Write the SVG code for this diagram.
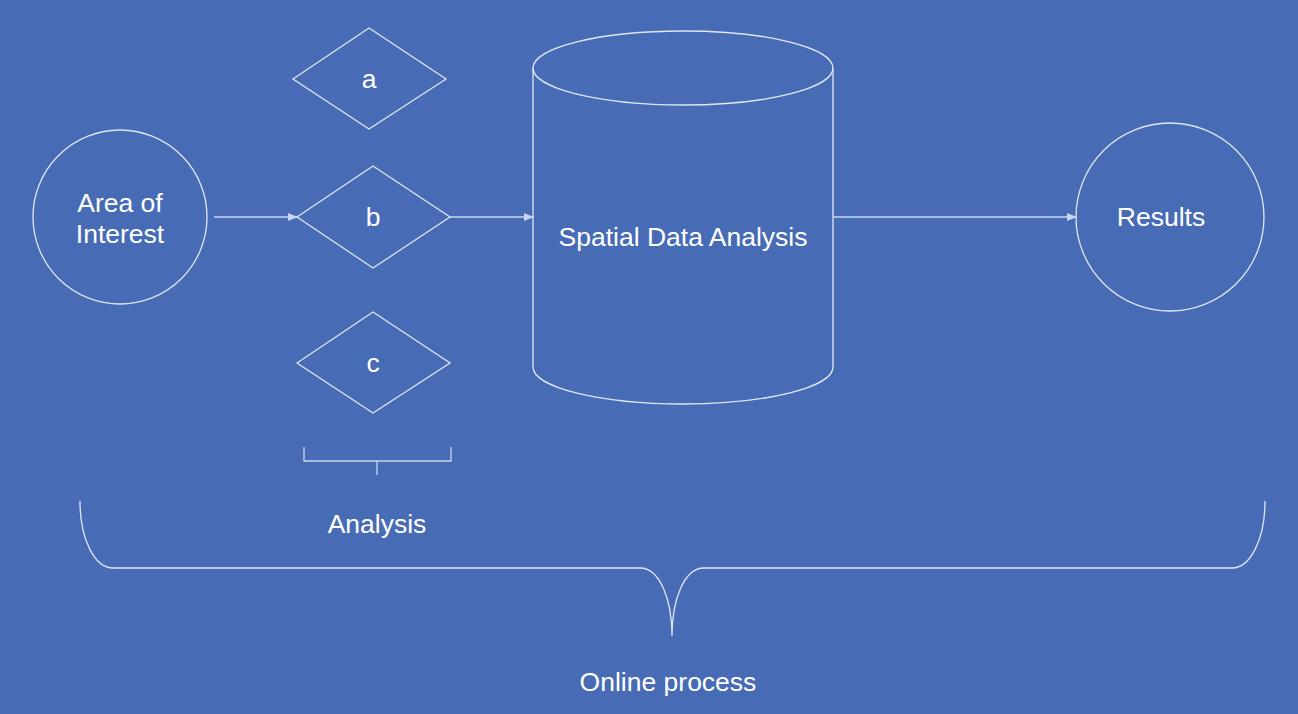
<svg xmlns="http://www.w3.org/2000/svg" width="1298" height="714" viewBox="0 0 1298 714">
<defs>
<marker id="ah" markerWidth="10" markerHeight="8" refX="9" refY="4" orient="auto" markerUnits="userSpaceOnUse">
<path d="M0,0 L10,4 L0,8 Z" fill="#c9d5ee"/>
</marker>
<style>
.s{fill:none;stroke:#dfe6f4;stroke-width:1.3}
.c{fill:none;stroke:#c9d5ee;stroke-width:1.3}
.t{font-family:"Liberation Sans",Arial,sans-serif;font-size:26.5px;fill:#ffffff;text-anchor:middle;dominant-baseline:central}
</style>
</defs>
<rect x="0" y="0" width="1298" height="714" fill="#476cb5"/>
<g id="connectors">
<line class="c" x1="214" y1="217" x2="297" y2="217" marker-end="url(#ah)"/>
<line class="c" x1="450" y1="217" x2="533" y2="217" marker-end="url(#ah)"/>
<line class="c" x1="833" y1="217" x2="1076" y2="217" marker-end="url(#ah)"/>
</g>
<g id="area">
<circle class="s" cx="120" cy="217" r="87"/>
<text class="t" x="120" y="203">Area of</text>
<text class="t" x="120" y="234">Interest</text>
</g>
<g id="a">
<polygon class="s" points="293,79 369,28 446,79 369,129"/>
<text class="t" x="369" y="79">a</text>
</g>
<g id="b">
<polygon class="s" points="297,217 373,166 450,217 373,268"/>
<text class="t" x="373" y="217">b</text>
</g>
<g id="c">
<polygon class="s" points="297,363 373,312 450,363 373,413"/>
<text class="t" x="373" y="363">c</text>
</g>
<g id="spatial">
<path class="s" d="M533,68 L533,367 A150,37 0 0 0 833,367 L833,68"/>
<ellipse class="s" cx="683" cy="68" rx="150" ry="37"/>
<text class="t" x="683" y="237">Spatial Data Analysis</text>
</g>
<g id="results">
<circle class="s" cx="1170" cy="217" r="94"/>
<text class="t" x="1161" y="217">Results</text>
</g>
<g id="analysis">
<path class="c" d="M304,447 L304,461 L451,461 L451,447 M377,461 L377,475"/>
<text class="t" x="377" y="524">Analysis</text>
</g>
<g id="online">
<path class="s" d="M80,501 C80,540 95,568 113,568 L640,568 C660,568 672,600 672,636 C672,600 684,568 704,568 L1232,568 C1250,568 1265,540 1265,501"/>
<text class="t" x="668" y="682">Online process</text>
</g>
</svg>
